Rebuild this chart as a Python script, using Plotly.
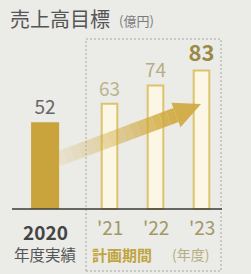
import math
import plotly.graph_objects as go

# ---- data ----
actual_label = ["2020"]
actual_values = [52]
plan_labels = ["'21", "'22", "'23"]
plan_values = [63, 74, 83]
title_text = "売上高目標"
unit_text = "(億円)"
actual_caption = "年度実績"
plan_caption = "計画期間"
plan_unit = "(年度)"

# ---- layout geometry ----
W, H = 251, 274
X_UNIT = 46.0        # px per x unit
X0_PX = 63.5         # pixel of x=0
Y_UNIT = 1.67        # px per value unit
Y0_PX = 209.0        # pixel of baseline

def px(p):   # pixel x -> data x
    return (p - X0_PX) / X_UNIT

def py(p):   # pixel y -> data y
    return (Y0_PX - p) / Y_UNIT

actual_x = [-0.4]
plan_x = [1, 2, 3]

GOLD = "#c9a43c"
GOLD_LINE = "#dcc36c"
CREAM = "#fbf7e4"
FONT = "Noto Sans CJK JP"

fig = go.Figure()

fig.add_trace(go.Bar(
    x=actual_x, y=actual_values, width=0.61,
    marker=dict(color=GOLD, line=dict(width=0)),
    text=[str(v) for v in actual_values], textposition="outside",
    constraintext="none",
    textfont=dict(family=FONT, size=19, color="#666666"),
    cliponaxis=False, hoverinfo="skip"))

fig.add_trace(go.Bar(
    x=plan_x, y=plan_values, width=0.34,
    marker=dict(color=CREAM, line=dict(width=2, color=GOLD_LINE)),
    text=[str(v) for v in plan_values],
    texttemplate=["%{y}", "%{y}", "<b>%{y}</b>"],
    textposition="outside", constraintext="none",
    textfont=dict(family=FONT, size=[19, 19, 22],
                  color=["#bdb38c", "#b8ad84", "#9a8a44"]),
    cliponaxis=False, hoverinfo="skip"))

shapes = []
# dashed box around plan period
shapes.append(dict(type="rect", xref="x", yref="y",
                   x0=px(86), x1=px(221), y0=py(271), y1=py(39),
                   line=dict(color="#a6a6a0", width=1, dash="2px,2px"),
                   fillcolor="rgba(0,0,0,0)", layer="below"))
# baseline
shapes.append(dict(type="line", xref="x", yref="y",
                   x0=px(12), x1=px(222), y0=0, y1=0,
                   line=dict(color="#3a3a3a", width=1.6), layer="above"))

# arrow with fading body (pixel geometry)
sx, sy = 58.0, 159.0     # start center
bx, by = 176.0, 115.0    # head base center
tx, ty = 201.0, 104.0    # tip
dx, dy = bx - sx, by - sy
L = math.hypot(dx, dy)
ux, uy = dx / L, dy / L
nx, ny = -uy, ux
hw = 7.5
N = 16
for i in range(N):
    a0, a1 = i / N, (i + 1) / N
    p0 = (sx + dx * a0, sy + dy * a0)
    p1 = (sx + dx * a1, sy + dy * a1)
    pts = [(p0[0] + nx * hw, p0[1] + ny * hw), (p1[0] + nx * hw, p1[1] + ny * hw),
           (p1[0] - nx * hw, p1[1] - ny * hw), (p0[0] - nx * hw, p0[1] - ny * hw)]
    path = "M " + " L ".join(f"{px(a)},{py(b)}" for a, b in pts) + " Z"
    op = 0.12 + 0.8 * min(1.0, a1 ** 1.2)
    shapes.append(dict(type="path", xref="x", yref="y", path=path,
                       fillcolor="#d0a93f", opacity=op,
                       line=dict(width=0), layer="above"))
hh = 13.0
head = [(bx + nx * hh, by + ny * hh), (tx, ty), (bx - nx * hh, by - ny * hh)]
shapes.append(dict(type="path", xref="x", yref="y",
                   path="M " + " L ".join(f"{px(a)},{py(b)}" for a, b in head) + " Z",
                   fillcolor="#d0a93f", opacity=0.93, line=dict(width=0), layer="above"))

def pap(xp, yp):
    return xp / W, 1 - yp / H

ann = []
def add(text, xp, yp, size, color, xanchor="center", bold=False):
    x, y = pap(xp, yp)
    ann.append(dict(text=f"<b>{text}</b>" if bold else text, x=x, y=y,
                    xref="paper", yref="paper", showarrow=False,
                    xanchor=xanchor, yanchor="middle",
                    font=dict(family=FONT, size=size, color=color)))

add(title_text, 8, 18, 20, "#555555", xanchor="left")
add(unit_text, 117, 20, 13, "#7a7a7a", xanchor="left")
add(actual_label[0], 45, 231, 19, "#444444", bold=True)
add(actual_caption, 45, 254, 15.5, "#555555")
for lab, xv in zip(plan_labels, plan_x):
    add(lab, X0_PX + xv * X_UNIT, 226, 19, "#a29866")
add(plan_caption, 122, 254, 15, "#c0a43e", bold=True)
add(plan_unit, 190, 254, 14, "#b7ad82")

fig.update_layout(
    width=W, height=H,
    margin=dict(l=0, r=0, t=0, b=0),
    paper_bgcolor="#ebebe8", plot_bgcolor="rgba(0,0,0,0)",
    showlegend=False, barmode="overlay",
    xaxis=dict(range=[px(0), px(W)], visible=False, fixedrange=True),
    yaxis=dict(range=[py(H), py(0)], visible=False, fixedrange=True),
    shapes=shapes, annotations=ann,
)

fig.write_html("out.html", config={"displayModeBar": False},
               post_script="document.body.style.margin='0';document.body.style.overflow='hidden';document.body.style.background='#ebebe8';")
